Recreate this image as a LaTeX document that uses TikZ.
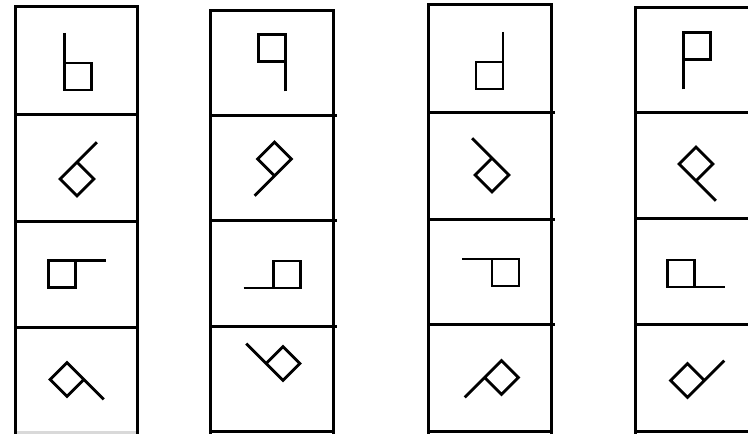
\documentclass[tikz,border=0pt]{standalone}
\usepackage{tikz}

\begin{document}
\begin{tikzpicture}[x=1pt, y=1pt,
    frame/.style={line width=3pt, line join=miter},
    glyph/.style={line width=2.8pt, line join=miter}]
    \clip (0,0) rectangle (748,434);

    % Bas des colonnes
    \draw[frame, gray!30] (15,1.5) -- (137,1.5);
    \foreach \xl/\xr in {210/333, 428/551, 635/760} {
        \draw[frame] (\xl,2) -- (\xr,2);
    }

    % Colonnes (cadres et séparations)
    \foreach \xl/\xr/\xe/\yt/\ya/\yb/\yc in {15/137/137/427/319/212/106, 210/333/337/423/318/213/107, 428/551/555/429/321/214/109, 635/760/760/426/321/215/109} {
        \draw[frame] (\xl,0) -- (\xl,\yt) -- (\xr,\yt) -- (\xr,0);
        \draw[frame] (\xl,\ya) -- (\xe,\ya);
        \draw[frame] (\xl,\yb) -- (\xe,\yb);
        \draw[frame] (\xl,\yc) -- (\xe,\yc);
    }

    % Figures : carré + tige (rotation, symétrie)
    \foreach \cx/\cy/\ang/\flip/\s/\t in {
        78/357.5/0/1/27/30, 77/255/-45/1/24/28, 62/160/-90/1/27/30, 67/54.5/-135/1/24/28,
        272/386/180/1/27/30, 274.5/275/135/1/24/28, 287/159.5/90/1/27/30, 283/70.5/45/1/24/28,
        489.5/358.5/0/-1/27/30, 492/259/45/-1/24/28, 505.5/161.5/90/-1/27/30, 501.5/56.5/135/-1/24/28,
        697/388/180/-1/27/30, 696/270/225/-1/24/28, 681/160.5/270/-1/27/30, 687.5/53.5/315/-1/24/28} {
        \begin{scope}[shift={(\cx,\cy)}, rotate=\ang, xscale=\flip]
            \draw[glyph] (-\s/2,\s/2+\t) -- (-\s/2,-\s/2) -- (\s/2,-\s/2) -- (\s/2,\s/2) -- (-\s/2,\s/2);
        \end{scope}
    }
\end{tikzpicture}
\end{document}
